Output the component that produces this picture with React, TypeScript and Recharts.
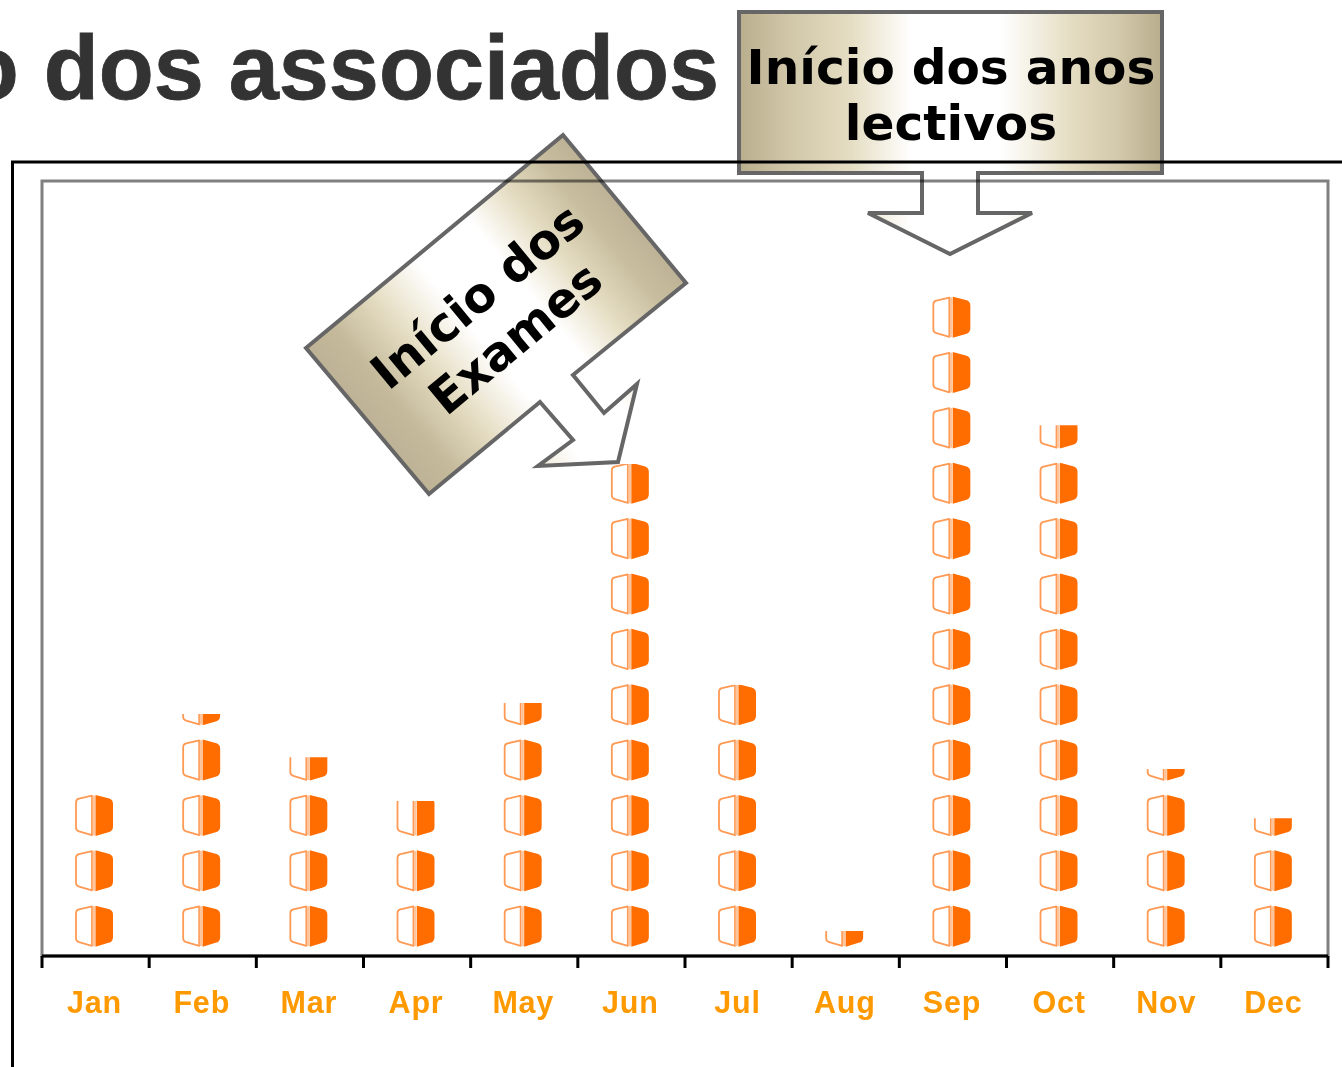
import React from "react";
import { BarChart, Bar, XAxis, YAxis } from "recharts";

const months = ["Jan", "Feb", "Mar", "Apr", "May", "Jun", "Jul", "Aug", "Sep", "Oct", "Nov", "Dec"];
const books = [2.92, 4.37, 3.59, 2.8, 4.57, 8.89, 4.9, 0.45, 11.92, 9.59, 3.38, 2.49];
const titleText = "o dos associados";
const schoolNote = ["Início dos anos", "lectivos"];
const examNote = ["Início dos", "Exames"];
const chartData = months.map((month, i) => ({ month, books: books[i] }));

const ICON_H = 41;
const ICON_TOP = 5;
const H = ICON_H;

function BookStack(props: any) {
  const { x, y, width, height, index, value } = props;
  const raw = Array.isArray(value) ? value[1] - value[0] : value;
  const unit = height / raw;
  const bottom = y + height;
  const count = Math.ceil(raw);
  const id = `clip-book-${index}`;
  const icons = [];
  for (let k = 0; k < count; k++) {
    const t = bottom - unit * (k + 1) + ICON_TOP;
    const l = x - 2;
    icons.push(
      <g key={k} transform={`translate(${l},${t})`}>
        <path
          d={`M1 7.5 Q1 4.5 4 3.8 L17 0.8 L17 ${H - 0.8} L4 ${H - 4.6} Q1 ${H - 5.4} 1 ${H - 8.5} Z`}
          fill="#ffffff"
          stroke="#FF9A55"
          strokeWidth={1.8}
          strokeLinejoin="round"
        />
        <rect x={17.6} y={0.6} width={2.6} height={H - 1.2} fill="#FFC49A" />
        <path
          d={`M20.5 0 L33.5 3.4 Q38 4.6 38 9 L38 ${H - 9.5} Q38 ${H - 5} 33.5 ${H - 3.8} L20.5 ${H} Z`}
          fill="#FF6D00"
        />
      </g>
    );
  }
  return (
    <g>
      <clipPath id={id}>
        <rect x={x - 6} y={y} width={width + 12} height={height + 2} />
      </clipPath>
      <g clipPath={`url(#${id})`}>{icons}</g>
    </g>
  );
}

const BAND = 1286 / 12;

function MonthTick(props: any) {
  const { x, y, payload, index } = props;
  const left = x - BAND / 2;
  return (
    <g>
      <line x1={left} x2={left} y1={y - 2} y2={y + 10} stroke="#000" strokeWidth={3} />
      {index === months.length - 1 ? (
        <line x1={x + BAND / 2} x2={x + BAND / 2} y1={y - 2} y2={y + 10} stroke="#000" strokeWidth={3} />
      ) : null}
      <text
        x={x - 1}
        y={y + 55}
        textAnchor="middle"
        fill="#FF9900"
        fontFamily="Liberation Sans"
        fontWeight="bold"
        fontSize={30.5}
        letterSpacing={0.8}
      >
        {payload.value}
      </text>
    </g>
  );
}

const layer: React.CSSProperties = { position: "absolute", left: 0, top: 0 };

export default function App() {
  return (
    <div style={{ position: "absolute", left: 0, top: 0, width: 1342, height: 1067, overflow: "hidden", background: "#fff" }}>
      <svg width={1342} height={1067} style={layer}>
        <text
          x={719}
          y={99}
          textAnchor="end"
          fontFamily="Liberation Sans"
          fontWeight="bold"
          fontSize={90}
          fill="#333333"
          stroke="#333333"
          strokeWidth={0.8}
        >
          {titleText}
        </text>
        <path d="M12.5 1067 L12.5 162 L1342 162" fill="none" stroke="#000" strokeWidth={3} />
        <rect x={42} y={181} width={1286} height={775} fill="#fff" stroke="#808080" strokeWidth={3} />
      </svg>
      <div style={layer}>
        <BarChart
          width={1342}
          height={1067}
          data={chartData}
          margin={{ top: 181, right: 14, bottom: 0, left: 42 }}
          barSize={38}
        >
          <XAxis
            dataKey="month"
            interval={0}
            height={111}
            axisLine={{ stroke: "#000", strokeWidth: 3 }}
            tickLine={false}
            tickSize={0}
            tick={<MonthTick />}
          />
          <YAxis hide domain={[0, 14]} />
          <Bar dataKey="books" isAnimationActive={false} shape={BookStack} />
        </BarChart>
      </div>
      <svg width={1342} height={1067} style={{ ...layer, mixBlendMode: "multiply" }}>
        <defs>
          <linearGradient id="schoolFill" gradientUnits="userSpaceOnUse" x1={738} y1={0} x2={1162} y2={0}>
            <stop offset="0" stopColor="#B8AD8C" />
            <stop offset="0.1" stopColor="#CDC3A4" />
            <stop offset="0.27" stopColor="#E6DEC4" />
            <stop offset="0.41" stopColor="#FFFFFF" />
            <stop offset="0.62" stopColor="#FFFFFF" />
            <stop offset="0.78" stopColor="#E6DEC4" />
            <stop offset="0.9" stopColor="#D2C8AA" />
            <stop offset="1" stopColor="#B8AD8C" />
          </linearGradient>
          <linearGradient id="examFill" gradientUnits="userSpaceOnUse" x1={367} y1={421} x2={624} y2={208}>
            <stop offset="0" stopColor="#BDB295" />
            <stop offset="0.1" stopColor="#C4B99A" />
            <stop offset="0.26" stopColor="#E6DEC4" />
            <stop offset="0.42" stopColor="#FFFFFF" />
            <stop offset="0.62" stopColor="#FFFFFF" />
            <stop offset="0.76" stopColor="#E6DEC4" />
            <stop offset="0.9" stopColor="#C8BE9F" />
            <stop offset="1" stopColor="#BDB295" />
          </linearGradient>
        </defs>
        <polygon
          points="739,12 1162,12 1162,173 978,173 978,213 1032,213 950,254 868,213 922,213 922,173 739,173"
          fill="url(#schoolFill)"
          stroke="#666666"
          strokeWidth={4}
        />
        <polygon
          points="563,135 686,283 573,375 604,413 637,384 618,462 538,466 573,440 540,402 429,494 306,348"
          fill="url(#examFill)"
          stroke="#666666"
          strokeWidth={4}
        />
        <g fontFamily="DejaVu Sans" fontWeight="bold" fontSize={48.6} fill="#000" textAnchor="middle">
          <text x={951} y={84}>{schoolNote[0]}</text>
          <text x={951} y={140}>{schoolNote[1]}</text>
        </g>
        <g fontFamily="DejaVu Sans" fontWeight="bold" fontSize={48} fill="#000" textAnchor="middle">
          <text transform="translate(488,309) rotate(-39.6)">{examNote[0]}</text>
          <text transform="translate(526,351) rotate(-39.6)">{examNote[1]}</text>
        </g>
      </svg>
    </div>
  );
}
